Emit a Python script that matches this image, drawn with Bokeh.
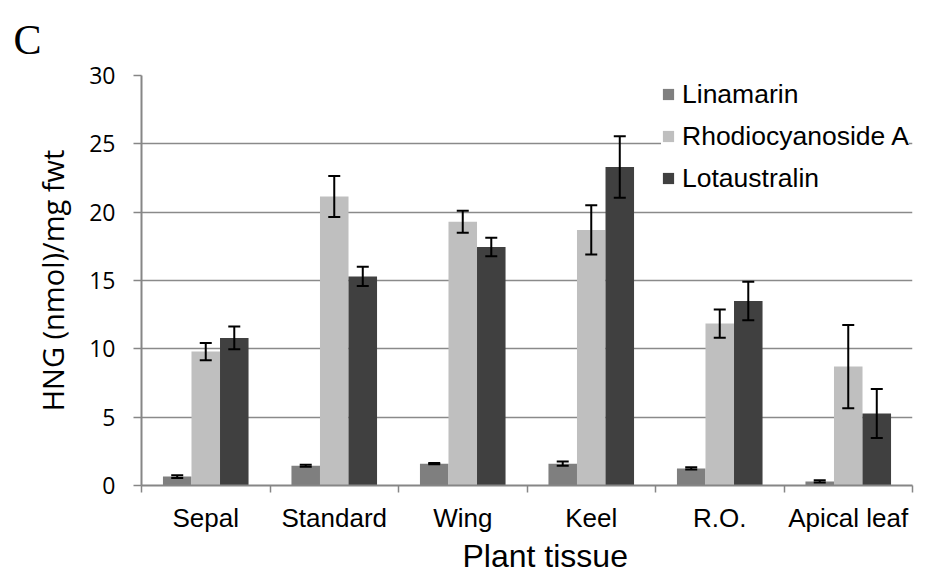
from bokeh.plotting import figure
from bokeh.models import (ColumnDataSource, Range1d, FixedTicker, Whisker, TeeHead,
                          Legend, LegendItem, Title)
from bokeh.embed import file_html
from bokeh.resources import INLINE

# ---- data ----
categories = ["Sepal", "Standard", "Wing", "Keel", "R.O.", "Apical leaf"]
series_names = ["Linamarin", "Rhodiocyanoside A", "Lotaustralin"]
linamarin = [0.65, 1.45, 1.6, 1.6, 1.25, 0.3]
linamarin_err = [0.1, 0.07, 0.05, 0.15, 0.08, 0.08]
rhodiocyanoside = [9.8, 21.15, 19.3, 18.7, 11.85, 8.7]
rhodiocyanoside_err = [0.63, 1.5, 0.8, 1.8, 1.03, 3.05]
lotaustralin = [10.8, 15.3, 17.45, 23.3, 13.5, 5.27]
lotaustralin_err = [0.83, 0.7, 0.67, 2.25, 1.4, 1.8]
y_ticks = [0, 5, 10, 15, 20, 25, 30]

colors = ["#7f7f7f", "#bfbfbf", "#404040"]
offsets = [-0.222, 0.0, 0.222]
bar_w = 0.222

p = figure(width=919, height=573, output_backend="svg", toolbar_location=None,
           x_range=Range1d(0, len(categories)), y_range=Range1d(0, 30),
           min_border_left=141, min_border_right=7, min_border_top=75, min_border_bottom=86)
p.outline_line_color = None
p.background_fill_color = "white"

renderers = []
for vals, errs, col, off in zip([linamarin, rhodiocyanoside, lotaustralin],
                                [linamarin_err, rhodiocyanoside_err, lotaustralin_err],
                                colors, offsets):
    xs = [i + 0.5 + off for i in range(len(categories))]
    src = ColumnDataSource(dict(x=xs, top=vals,
                                upper=[v + e for v, e in zip(vals, errs)],
                                lower=[v - e for v, e in zip(vals, errs)]))
    r = p.vbar(x="x", top="top", width=bar_w, source=src, fill_color=col, line_color=None)
    renderers.append(r)
    w = Whisker(base="x", upper="upper", lower="lower", source=src, level="annotation",
                line_color="black", line_width=2,
                upper_head=TeeHead(size=12, line_color="black", line_width=2),
                lower_head=TeeHead(size=12, line_color="black", line_width=2))
    p.add_layout(w)

# ---- axes ----
xa = p.xaxis[0]
xa.ticker = FixedTicker(ticks=[i + 0.5 for i in range(len(categories))],
                        minor_ticks=list(range(len(categories) + 1)))
xa.major_label_overrides = {i + 0.5: c for i, c in enumerate(categories)}
xa.major_tick_out = 0
xa.major_tick_in = 0
xa.minor_tick_out = 7
xa.minor_tick_in = 0
xa.minor_tick_line_color = "#868686"
xa.minor_tick_line_width = 1.5
xa.axis_line_color = "#868686"
xa.axis_line_width = 2
xa.major_label_text_font = "Liberation Sans"
xa.major_label_text_font_size = "26px"
xa.major_label_text_color = "black"
xa.major_label_standoff = 10

ya = p.yaxis[0]
ya.ticker = FixedTicker(ticks=y_ticks, minor_ticks=[])
ya.major_tick_out = 8
ya.major_tick_in = 0
ya.major_tick_line_color = "#868686"
ya.major_tick_line_width = 1.5
ya.axis_line_color = "#868686"
ya.axis_line_width = 2
ya.major_label_text_font = "Open Sans"
ya.major_label_text_font_size = "23px"
ya.major_label_text_color = "black"
ya.major_label_standoff = 18
ya.axis_label = "HNG (nmol)/mg fwt"
ya.axis_label_text_font = "Open Sans"
ya.axis_label_text_font_size = "29px"
ya.axis_label_text_font_style = "normal"
ya.axis_label_text_color = "black"
ya.axis_label_standoff = 14

p.xgrid.grid_line_color = None
p.ygrid.ticker = FixedTicker(ticks=y_ticks)
p.ygrid.grid_line_color = "#8a8a8a"
p.ygrid.grid_line_width = 1.3

# ---- legend ----
legend = Legend(items=[LegendItem(label=n, renderers=[r]) for n, r in zip(series_names, renderers)],
                location=(520, 286), orientation="vertical",
                label_text_font="Liberation Sans", label_text_font_size="26.5px",
                label_text_color="black",
                glyph_width=14, glyph_height=14, label_standoff=7,
                label_height=42, spacing=0, padding=6,
                background_fill_color="white", background_fill_alpha=1.0,
                border_line_color=None)
p.add_layout(legend, "center")

# ---- texts ----
p.title.text = "C"
p.title.text_font = "Liberation Serif"
p.title.text_font_size = "42px"
p.title.text_font_style = "normal"
p.title.text_color = "black"
p.title.align = "left"
p.title.vertical_align = "bottom"
p.title.offset = -128
p.title.standoff = 26

p.add_layout(Title(text="Plant tissue", text_font="Liberation Sans", text_font_size="32px",
                   text_font_style="normal", text_color="black", align="left",
                   offset=321, standoff=0), "below")

open("out.html", "w").write(file_html(p, INLINE))
